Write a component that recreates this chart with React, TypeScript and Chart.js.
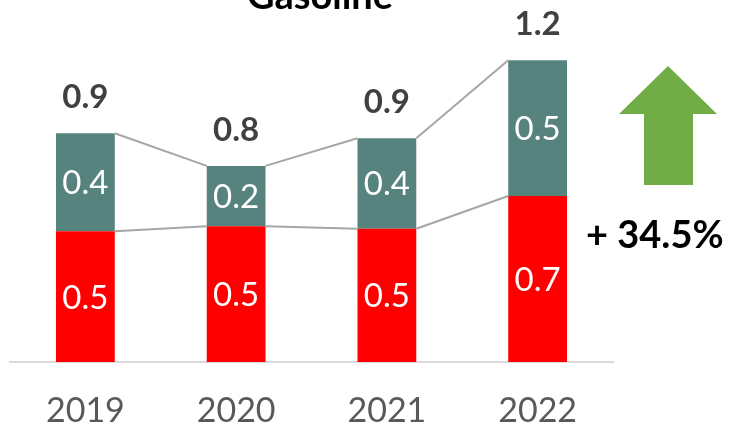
import React, { useEffect, useRef } from 'react';
import { Chart, registerables } from 'chart.js';

Chart.register(...registerables);

const categories = ['2019', '2020', '2021', '2022'];
const baseValues = [0.52, 0.54, 0.53, 0.66];
const topValues = [0.39, 0.24, 0.36, 0.54];
const titleText = 'Gasoline';
const growthLabel = '+ 34.5%';

const FONT = 'Lato, "Open Sans", sans-serif';
const RED = '#FF0000';
const TEAL = '#57837F';
const fmt = (v: number) => (Math.round(v * 10) / 10).toFixed(1);

const overlay = {
  id: 'overlay',
  afterDatasetsDraw(chart: any) {
    const ctx = chart.ctx as CanvasRenderingContext2D;
    const m0 = chart.getDatasetMeta(0).data as any[];
    const m1 = chart.getDatasetMeta(1).data as any[];
    ctx.save();
    // connectors
    ctx.strokeStyle = '#A6A6A6';
    ctx.lineWidth = 2;
    [m0, m1].forEach((els) => {
      for (let i = 0; i < els.length - 1; i++) {
        const a = els[i];
        const b = els[i + 1];
        ctx.beginPath();
        ctx.moveTo(a.x + a.width / 2, a.y);
        ctx.lineTo(b.x - b.width / 2, b.y);
        ctx.stroke();
      }
    });
    // segment labels
    ctx.fillStyle = '#FFFFFF';
    ctx.font = `33px ${FONT}`;
    ctx.textAlign = 'center';
    ctx.textBaseline = 'alphabetic';
    [
      [m0, baseValues],
      [m1, topValues],
    ].forEach(([els, vals]: any) => {
      els.forEach((el: any, i: number) => {
        const cy = (el.y + el.base) / 2;
        ctx.fillText(fmt(vals[i]), el.x, cy + 12);
      });
    });
    // totals
    ctx.fillStyle = '#404040';
    ctx.font = `bold 33px ${FONT}`;
    m1.forEach((el: any, i: number) => {
      ctx.fillText(fmt(baseValues[i] + topValues[i]), el.x, el.y - 25);
    });
    // title
    ctx.fillStyle = '#000000';
    ctx.font = `bold 38px ${FONT}`;
    ctx.fillText(titleText, 320, 9);
    // arrow
    const ax = chart.chartArea.right + 55;
    ctx.fillStyle = '#70AD47';
    ctx.beginPath();
    ctx.moveTo(ax, 66);
    ctx.lineTo(ax + 49, 114);
    ctx.lineTo(ax + 25, 114);
    ctx.lineTo(ax + 25, 185);
    ctx.lineTo(ax - 24, 185);
    ctx.lineTo(ax - 24, 114);
    ctx.lineTo(ax - 49, 114);
    ctx.closePath();
    ctx.fill();
    // growth text
    ctx.fillStyle = '#000000';
    ctx.font = `bold 38px ${FONT}`;
    ctx.textAlign = 'left';
    ctx.fillText(growthLabel, chart.chartArea.right - 27, 248);
    ctx.restore();
  },
};

export default function App() {
  const ref = useRef<HTMLCanvasElement | null>(null);
  useEffect(() => {
    if (!ref.current) return;
    const chart = new Chart(ref.current, {
      type: 'bar',
      data: {
        labels: categories,
        datasets: [
          { label: 'base', data: baseValues, backgroundColor: RED, borderWidth: 0 },
          { label: 'top', data: topValues, backgroundColor: TEAL, borderWidth: 0 },
        ],
      },
      options: {
        animation: false,
        responsive: true,
        maintainAspectRatio: false,
        layout: { padding: { left: 10, right: 118, top: 10, bottom: 0 } },
        datasets: { bar: { categoryPercentage: 1, barPercentage: 0.39 } },
        plugins: { legend: { display: false }, tooltip: { enabled: false }, title: { display: false } },
        scales: {
          x: {
            stacked: true,
            grid: { display: false, drawTicks: false },
            border: { display: true, color: '#D9D9D9', width: 2 },
            ticks: { color: '#595959', font: { family: FONT, size: 34 }, padding: 29 },
            afterFit: (scale: any) => {
              scale.height = 68;
            },
          },
          y: { stacked: true, display: false, min: 0, max: 1.4 },
        },
      },
      plugins: [overlay],
    });
    return () => chart.destroy();
  }, []);
  return (
    <div style={{ position: 'fixed', left: 0, top: 0, width: 731, height: 430, background: '#fff' }}>
      <canvas ref={ref} />
    </div>
  );
}
